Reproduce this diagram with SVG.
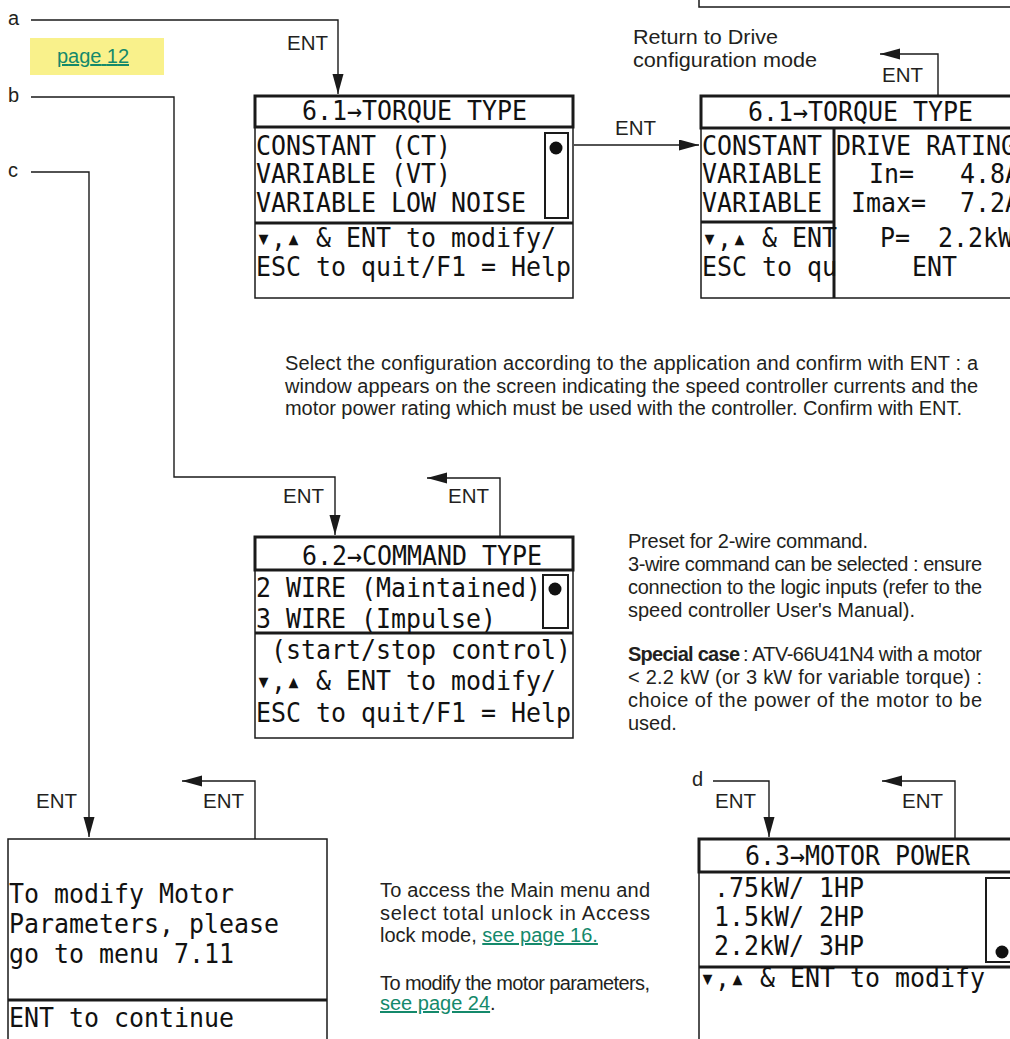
<svg xmlns="http://www.w3.org/2000/svg" width="1010" height="1039" viewBox="0 0 1010 1039">
<style>
.lcd{font-family:"DejaVu Sans Mono",monospace;font-size:27px;fill:#111;white-space:pre}
.t{font-family:"Liberation Sans",Arial,sans-serif;font-size:20px;fill:#231f20;white-space:pre}
.b{font-weight:bold}
.link{fill:#14896b;text-decoration:underline}
.frame{fill:#fff;stroke:#1a1a1a;stroke-width:1.5}
.thick{fill:none;stroke:#1a1a1a;stroke-width:3}
.scroll{fill:none;stroke:#1a1a1a;stroke-width:2}
.dot{fill:#111}
.conn{fill:none;stroke:#1a1a1a;stroke-width:1.4;marker-end:url(#ah)}
</style>
<defs>
<marker id="ah" markerUnits="userSpaceOnUse" markerWidth="21" markerHeight="12" refX="20" refY="5.5" orient="auto">
<path d="M0,0 L20,5.5 L0,11 z" fill="#1a1a1a"/>
</marker>
</defs>
<rect width="1010" height="1039" fill="#fff"/>

<g id="prev-box">
<path d="M699,0 V7 H1012" fill="none" stroke="#1a1a1a" stroke-width="1.5"/>
</g>

<g id="page-ref">
<rect x="30" y="38" width="134" height="37" fill="#f9f18b"/>
<text class="t link" x="57" y="63" textLength="72">page 12</text>
</g>

<g id="labels">
<text class="t" x="8" y="25">a</text>
<text class="t" x="8" y="102">b</text>
<text class="t" x="8" y="177">c</text>
<text class="t" x="692" y="786">d</text>
</g>

<g id="connectors">
<path class="conn" d="M31,20 H338 V94"/>
<path class="conn" d="M31,97 H174 V477 H335 V535"/>
<path class="conn" d="M31,172 H89 V837"/>
<path class="conn" d="M574,145 H699"/>
<path class="conn" d="M938,96 V54 H880"/>
<path class="conn" d="M500,537 V478 H427"/>
<path class="conn" d="M255,839 V781 H182"/>
<path class="conn" d="M713,781 H769 V837"/>
<path class="conn" d="M955,839 V781 H882"/>
<text class="t" x="287" y="50" textLength="41" lengthAdjust="spacingAndGlyphs">ENT</text>
<text class="t" x="615" y="135" textLength="41" lengthAdjust="spacingAndGlyphs">ENT</text>
<text class="t" x="882" y="82" textLength="41" lengthAdjust="spacingAndGlyphs">ENT</text>
<text class="t" x="283" y="503" textLength="41" lengthAdjust="spacingAndGlyphs">ENT</text>
<text class="t" x="448" y="503" textLength="41" lengthAdjust="spacingAndGlyphs">ENT</text>
<text class="t" x="36" y="808" textLength="41" lengthAdjust="spacingAndGlyphs">ENT</text>
<text class="t" x="203" y="808" textLength="41" lengthAdjust="spacingAndGlyphs">ENT</text>
<text class="t" x="715" y="808" textLength="41" lengthAdjust="spacingAndGlyphs">ENT</text>
<text class="t" x="902" y="808" textLength="41" lengthAdjust="spacingAndGlyphs">ENT</text>
</g>

<g id="torque-type">
<rect class="frame" x="255" y="96" width="318" height="202"/>
<rect class="thick" x="255" y="96" width="318" height="31"/>
<line class="thick" x1="255" y1="223" x2="573" y2="223"/>
<rect class="scroll" x="545" y="133" width="23" height="85"/>
<circle class="dot" cx="556" cy="148" r="6.5"/>
<text class="lcd" x="302" y="120" textLength="225" lengthAdjust="spacingAndGlyphs">6.1→TORQUE TYPE</text>
<text class="lcd" x="256" y="155" textLength="195" lengthAdjust="spacingAndGlyphs">CONSTANT (CT)</text>
<text class="lcd" x="256" y="183" textLength="195" lengthAdjust="spacingAndGlyphs">VARIABLE (VT)</text>
<text class="lcd" x="256" y="212" textLength="270" lengthAdjust="spacingAndGlyphs">VARIABLE LOW NOISE</text>
<text class="lcd" x="256" y="247" textLength="300" lengthAdjust="spacingAndGlyphs">▾,▴ &amp; ENT to modify/</text>
<text class="lcd" x="256" y="276" textLength="315" lengthAdjust="spacingAndGlyphs">ESC to quit/F1 = Help</text>
</g>

<g id="return-note">
<text class="t" x="633" y="44" textLength="145" lengthAdjust="spacingAndGlyphs">Return to Drive</text>
<text class="t" x="633" y="67" textLength="184" lengthAdjust="spacingAndGlyphs">configuration mode</text>
</g>

<g id="drive-rating">
<rect class="frame" x="701" y="96" width="320" height="202"/>
<rect class="thick" x="701" y="96" width="320" height="32"/>
<line class="thick" x1="834" y1="128" x2="834" y2="298"/>
<line class="thick" x1="701" y1="222" x2="834" y2="222"/>
<text class="lcd" x="748" y="121" textLength="225" lengthAdjust="spacingAndGlyphs">6.1→TORQUE TYPE</text>
<text class="lcd" x="702" y="155" textLength="120" lengthAdjust="spacingAndGlyphs">CONSTANT</text>
<text class="lcd" x="702" y="183" textLength="120" lengthAdjust="spacingAndGlyphs">VARIABLE</text>
<text class="lcd" x="702" y="212" textLength="120" lengthAdjust="spacingAndGlyphs">VARIABLE</text>
<text class="lcd" x="702" y="247" textLength="135" lengthAdjust="spacingAndGlyphs">▾,▴ &amp; ENT</text>
<text class="lcd" x="702" y="276" textLength="135" lengthAdjust="spacingAndGlyphs">ESC to qu</text>
<text class="lcd" x="836" y="155" textLength="180" lengthAdjust="spacingAndGlyphs">DRIVE RATING</text>
<text class="lcd" x="869" y="183" textLength="45" lengthAdjust="spacingAndGlyphs">In=</text>
<text class="lcd" x="960" y="183" textLength="60" lengthAdjust="spacingAndGlyphs">4.8A</text>
<text class="lcd" x="851" y="212" textLength="75" lengthAdjust="spacingAndGlyphs">Imax=</text>
<text class="lcd" x="960" y="212" textLength="60" lengthAdjust="spacingAndGlyphs">7.2A</text>
<text class="lcd" x="880" y="247" textLength="30" lengthAdjust="spacingAndGlyphs">P=</text>
<text class="lcd" x="938" y="247" textLength="75" lengthAdjust="spacingAndGlyphs">2.2kW</text>
<text class="lcd" x="912" y="276" textLength="45" lengthAdjust="spacingAndGlyphs">ENT</text>
</g>

<g id="note-config">
<text class="t" x="285" y="370" textLength="693">Select the configuration according to the application and confirm with ENT : a</text>
<text class="t" x="285" y="393" textLength="693">window appears on the screen indicating the speed controller currents and the</text>
<text class="t" x="285" y="415" textLength="677">motor power rating which must be used with the controller. Confirm with ENT.</text>
</g>

<g id="command-type">
<rect class="frame" x="255" y="537" width="318" height="201"/>
<rect class="thick" x="255" y="537" width="318" height="33"/>
<line class="thick" x1="255" y1="633" x2="573" y2="633"/>
<rect class="scroll" x="543" y="575" width="25" height="53"/>
<circle class="dot" cx="555" cy="589" r="6.5"/>
<text class="lcd" x="302" y="565" textLength="240" lengthAdjust="spacingAndGlyphs">6.2→COMMAND TYPE</text>
<text class="lcd" x="256" y="597" textLength="285" lengthAdjust="spacingAndGlyphs">2 WIRE (Maintained)</text>
<text class="lcd" x="256" y="628" textLength="240" lengthAdjust="spacingAndGlyphs">3 WIRE (Impulse)</text>
<text class="lcd" x="271" y="659" textLength="300" lengthAdjust="spacingAndGlyphs">(start/stop control)</text>
<text class="lcd" x="256" y="690" textLength="300" lengthAdjust="spacingAndGlyphs">▾,▴ &amp; ENT to modify/</text>
<text class="lcd" x="256" y="722" textLength="315" lengthAdjust="spacingAndGlyphs">ESC to quit/F1 = Help</text>
</g>

<g id="note-command">
<text class="t" x="628" y="548" textLength="240">Preset for 2-wire command.</text>
<text class="t" x="628" y="571" textLength="354">3-wire command can be selected : ensure</text>
<text class="t" x="628" y="594" textLength="354">connection to the logic inputs (refer to the</text>
<text class="t" x="628" y="617" textLength="287">speed controller User's Manual).</text>
<text class="t b" x="628" y="661" textLength="112">Special case</text>
<text class="t" x="743" y="661" textLength="239">: ATV-66U41N4 with a motor</text>
<text class="t" x="628" y="684" textLength="354">&lt; 2.2 kW (or 3 kW for variable torque) :</text>
<text class="t" x="628" y="707" textLength="354">choice of the power of the motor to be</text>
<text class="t" x="628" y="730">used.</text>
</g>

<g id="motor-params-msg">
<rect class="frame" x="8" y="839" width="319" height="210"/>
<line class="thick" x1="8" y1="1000" x2="327" y2="1000"/>
<text class="lcd" x="9" y="903" textLength="225" lengthAdjust="spacingAndGlyphs">To modify Motor</text>
<text class="lcd" x="9" y="933" textLength="270" lengthAdjust="spacingAndGlyphs">Parameters, please</text>
<text class="lcd" x="9" y="963" textLength="225" lengthAdjust="spacingAndGlyphs">go to menu 7.11</text>
<text class="lcd" x="9" y="1027" textLength="225" lengthAdjust="spacingAndGlyphs">ENT to continue</text>
</g>

<g id="note-access">
<text class="t" x="380" y="897" textLength="270">To access the Main menu and</text>
<text class="t" x="380" y="920" textLength="270">select total unlock in Access</text>
<text class="t" x="380" y="942">lock mode, <tspan class="link">see page 16.</tspan></text>
<text class="t" x="380" y="990" textLength="270">To modify the motor parameters,</text>
<text class="t" x="380" y="1010"><tspan class="link">see page 24</tspan>.</text>
</g>

<g id="motor-power">
<rect class="frame" x="699" y="839" width="320" height="210"/>
<rect class="thick" x="699" y="839" width="320" height="33"/>
<line class="thick" x1="699" y1="967" x2="1012" y2="967"/>
<rect class="scroll" x="986" y="878" width="40" height="84"/>
<circle class="dot" cx="1002" cy="952" r="6.5"/>
<text class="lcd" x="745" y="865" textLength="225" lengthAdjust="spacingAndGlyphs">6.3→MOTOR POWER</text>
<text class="lcd" x="714" y="897" textLength="150" lengthAdjust="spacingAndGlyphs">.75kW/ 1HP</text>
<text class="lcd" x="714" y="926" textLength="150" lengthAdjust="spacingAndGlyphs">1.5kW/ 2HP</text>
<text class="lcd" x="714" y="955" textLength="150" lengthAdjust="spacingAndGlyphs">2.2kW/ 3HP</text>
<text class="lcd" x="700" y="987" textLength="285" lengthAdjust="spacingAndGlyphs">▾,▴ &amp; ENT to modify</text>
</g>
</svg>
